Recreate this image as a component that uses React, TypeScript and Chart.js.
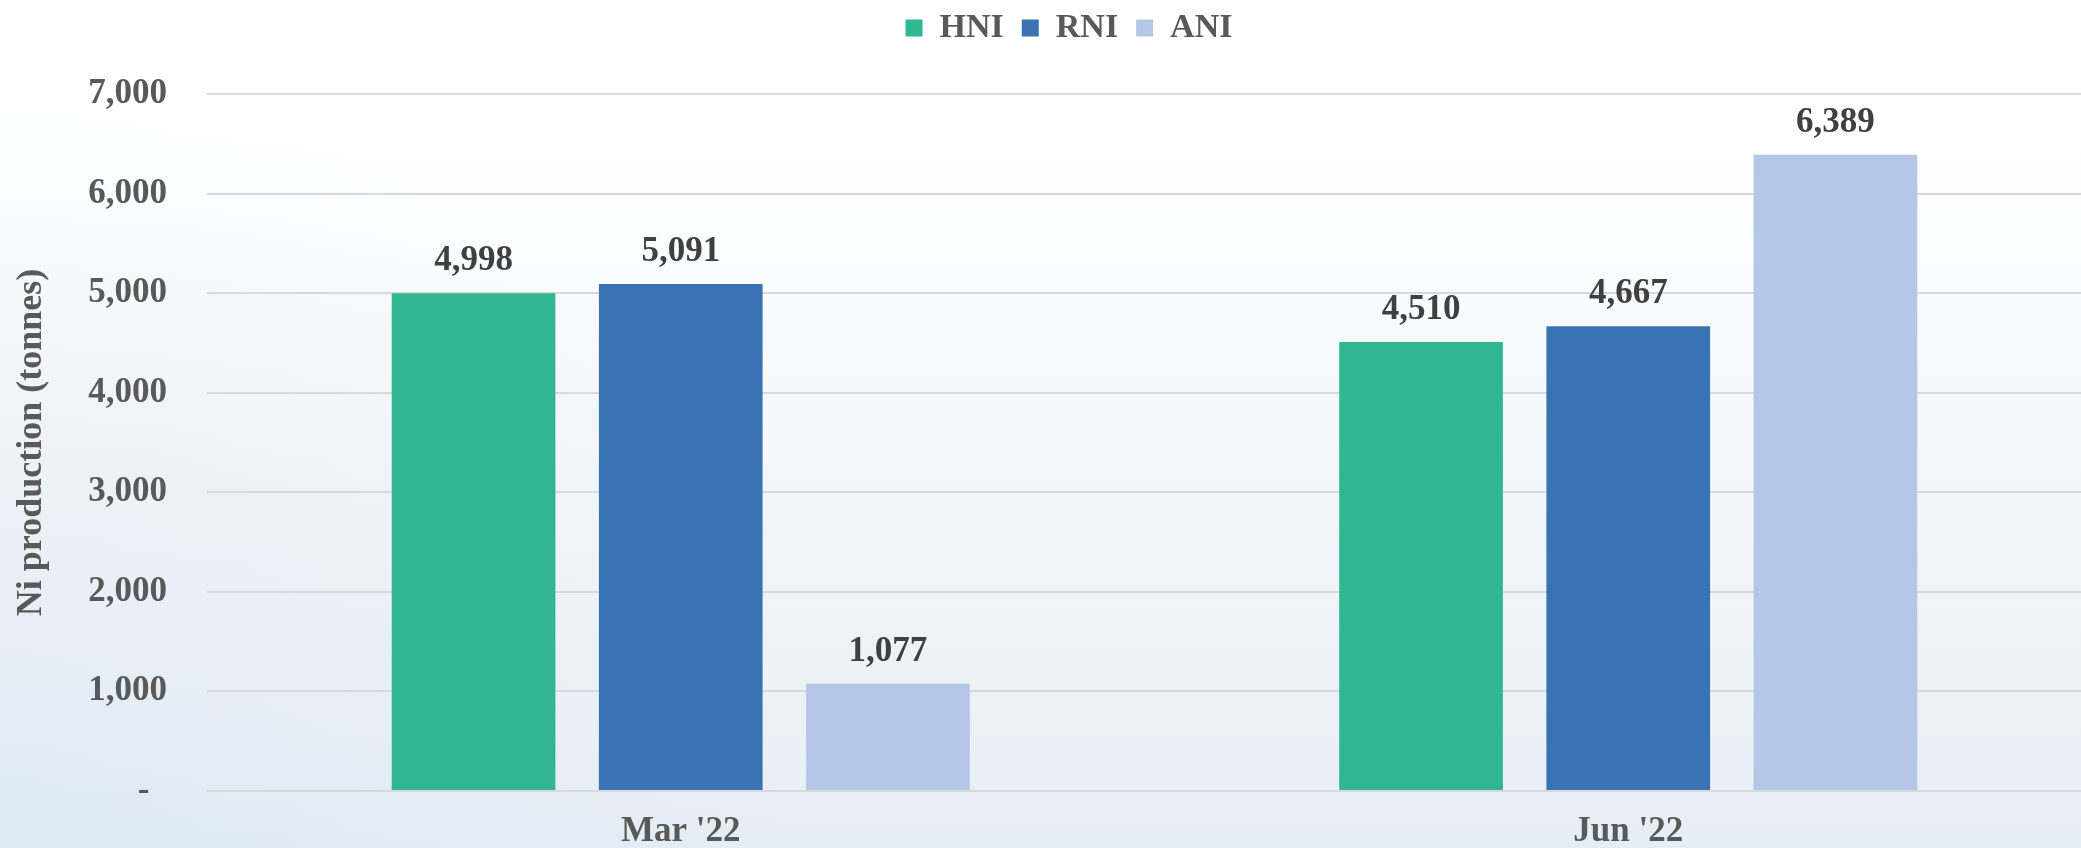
import React, { useEffect, useRef } from "react";
import { Chart, registerables } from "chart.js";

Chart.register(...registerables);

const categories = ["Mar '22", "Jun '22"];
const seriesNames = ["HNI", "RNI", "ANI"];
const hniValues = [4998, 4510];
const rniValues = [5091, 4667];
const aniValues = [1077, 6389];
const seriesColors = ["#32B592", "#3A73B3", "#B4C7E7"];
const yAxisTitle = "Ni production (tonnes)";
const yMin = 0;
const yMax = 7000;
const yStep = 1000;

const FONT = "'Liberation Serif', 'Times New Roman', serif";
const CANVAS_W = 2138;
const CANVAS_H = 873;

const fmt = (v: number) => v.toLocaleString("en-US");

const backgroundPlugin = {
  id: "bgFill",
  beforeDraw(chart: any) {
    const { ctx, width, height } = chart;
    ctx.save();
    const g = ctx.createLinearGradient(0, 0, 0, 848);
    g.addColorStop(0, "#ffffff");
    g.addColorStop(0.16, "#ffffff");
    g.addColorStop(0.5, "#f5f7fa");
    g.addColorStop(0.8, "#edf2f7");
    g.addColorStop(1, "#e5edf5");
    ctx.fillStyle = g;
    ctx.fillRect(0, 0, width, height);
    const r = ctx.createRadialGradient(0, 848, 0, 0, 848, 780);
    r.addColorStop(0, "rgba(214,228,242,0.45)");
    r.addColorStop(1, "rgba(214,228,242,0)");
    ctx.fillStyle = r;
    ctx.fillRect(0, 0, width, height);
    ctx.restore();
  },
};

const legendSpacePlugin = {
  id: "legendSpace",
  beforeLayout(chart: any) {
    const legend = chart.legend;
    if (!legend || legend._patched) return;
    const orig = legend.fit;
    legend.fit = function () {
      orig.call(this);
      this.height = 101;
    };
    legend._patched = true;
  },
};

const valueLabelPlugin = {
  id: "valueLabels",
  afterDatasetsDraw(chart: any) {
    const ctx = chart.ctx;
    ctx.save();
    ctx.font = `bold 35px ${FONT}`;
    ctx.fillStyle = "#404040";
    ctx.textAlign = "center";
    ctx.textBaseline = "alphabetic";
    chart.data.datasets.forEach((ds: any, i: number) => {
      const meta = chart.getDatasetMeta(i);
      meta.data.forEach((el: any, j: number) => {
        ctx.fillText(fmt(ds.data[j]), el.x, el.y - 23);
      });
    });
    ctx.restore();
  },
};

export default function App() {
  const ref = useRef<HTMLCanvasElement | null>(null);

  useEffect(() => {
    if (!ref.current) return;
    const values = [hniValues, rniValues, aniValues];
    const chart = new Chart(ref.current, {
      type: "bar",
      data: {
        labels: categories,
        datasets: seriesNames.map((name, i) => ({
          label: name,
          data: values[i],
          backgroundColor: seriesColors[i],
          borderWidth: 0,
          categoryPercentage: 0.656,
          barPercentage: 0.79,
        })),
      },
      options: {
        animation: false,
        responsive: false,
        devicePixelRatio: 1,
        layout: { padding: { top: -7, right: 0, left: 0, bottom: 0 } },
        plugins: {
          tooltip: { enabled: false },
          legend: {
            position: "top",
            align: "center",
            labels: {
              boxWidth: 17,
              boxHeight: 17,
              padding: 18,
              color: "#595959",
              font: { family: FONT, size: 34, weight: "bold" },
            },
          },
        },
        scales: {
          x: {
            offset: true,
            grid: { display: false, drawTicks: false },
            border: { display: false },
            ticks: {
              color: "#595959",
              padding: 20,
              font: { family: FONT, size: 35, weight: "bold" },
            },
          },
          y: {
            min: yMin,
            max: yMax,
            grid: { color: "#d9d9d9", lineWidth: 2, drawTicks: false },
            border: { display: false },
            ticks: {
              stepSize: yStep,
              padding: 40,
              color: "#595959",
              font: { family: FONT, size: 35, weight: "bold" },
              callback: (v: any) => (Number(v) === 0 ? "-  " : fmt(Number(v))),
            },
            title: {
              display: true,
              text: yAxisTitle,
              color: "#595959",
              padding: { top: 10, bottom: 0 },
              font: { family: FONT, size: 36, weight: "bold" },
            },
            afterFit: (scale: any) => {
              scale.width = 207;
            },
          },
          yRightSpace: {
            type: "linear",
            position: "right",
            display: true,
            grid: { display: false, drawTicks: false },
            border: { display: false },
            ticks: { display: false },
            afterFit: (scale: any) => {
              scale.width = 36;
            },
          },
        },
      },
      plugins: [backgroundPlugin, legendSpacePlugin, valueLabelPlugin],
    } as any);
    return () => chart.destroy();
  }, []);

  return (
    <div
      style={{
        position: "fixed",
        left: 0,
        top: 0,
        width: 2081,
        height: 848,
        overflow: "hidden",
        background: "#ffffff",
      }}
    >
      <canvas
        ref={ref}
        width={CANVAS_W}
        height={CANVAS_H}
        style={{ display: "block", width: CANVAS_W, height: CANVAS_H }}
      />
    </div>
  );
}
